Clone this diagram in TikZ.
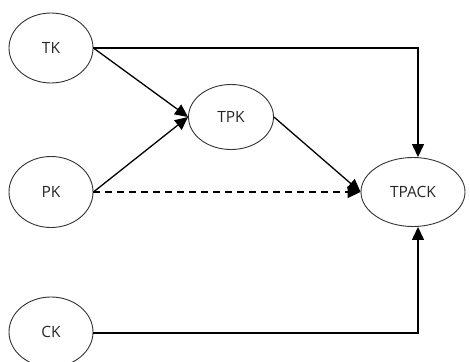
\documentclass[tikz,border=0pt]{standalone}
\usepackage{fontspec}
\setmainfont{Open Sans}
\usetikzlibrary{arrows.meta,shapes.geometric}
\begin{document}
\begin{tikzpicture}[x=1pt,y=-1pt,
  var/.style={ellipse,draw=black!80,line width=0.9pt,minimum width=#1,inner sep=0pt,font=\fontsize{15.5}{17}\selectfont,text=black!85},
  var/.default=84pt,
  link/.style={line width=1.3pt,-{Triangle[length=13pt,width=12pt]}}]
\useasboundingbox (0,0) rectangle (470,361);
\node[var,minimum height=70pt] (TK) at (51,48) {TK};
\node[var,minimum height=71pt] (PK) at (51,192) {PK};
\node[var,minimum height=70pt] (CK) at (51,332) {CK};
\node[var=85pt,minimum height=65pt] (TPK) at (231,117) {TPK};
\node[var=104pt,minimum height=69pt] (TPACK) at (413,192) {TPACK};
\coordinate (c1) at (418,48);
\coordinate (c2) at (418,333);
\draw[link] (TK.east) -- (c1) -- (TPACK.north -| c1);
\draw[link] (CK.east |- c2) -- (c2) -- (TPACK.south -| c2);
\draw[link] (TK.east) -- (TPK.west);
\draw[link] (PK.east) -- (TPK.west);
\draw[link] (TPK.east) -- (TPACK.west);
\draw[link,dash pattern=on 7pt off 5pt] (PK.east) -- (TPACK.west);
\end{tikzpicture}
\end{document}
